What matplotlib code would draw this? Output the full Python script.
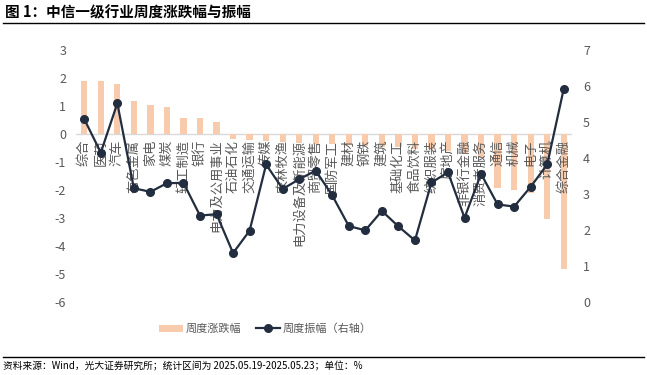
import matplotlib
matplotlib.use('Agg')
import numpy as np
import matplotlib.pyplot as plt
from matplotlib.lines import Line2D
from matplotlib.patches import Patch

plt.rcParams['font.family'] = ['Noto Sans CJK SC', 'DejaVu Sans']
plt.rcParams['axes.unicode_minus'] = False

# data
industries = ['综合', '医药', '汽车', '有色金属', '家电', '煤炭', '轻工制造', '银行',
              '电力及公用事业', '石油石化', '交通运输', '传媒', '农林牧渔', '电力设备及新能源',
              '商贸零售', '国防军工', '建材', '钢铁', '建筑', '基础化工', '食品饮料',
              '纺织服装', '房地产', '非银行金融', '消费者服务', '通信', '机械', '电子',
              '计算机', '综合金融']
weekly_change = [1.90, 1.90, 1.79, 1.18, 1.04, 0.95, 0.57, 0.57, 0.43, -0.18,
                 -0.21, -0.26, -0.29, -0.32, -0.35, -0.37, -0.40, -0.43, -0.45, -0.48,
                 -0.52, -0.55, -0.60, -0.70, -0.85, -1.93, -1.99, -2.10, -3.04, -4.83]
weekly_amplitude = [5.08, 4.15, 5.52, 3.16, 3.06, 3.30, 3.31, 2.40, 2.44, 1.36,
                    1.98, 3.82, 3.14, 3.41, 3.65, 2.96, 2.11, 1.99, 2.53, 2.10,
                    1.71, 3.32, 3.60, 2.34, 3.56, 2.71, 2.65, 3.20, 3.82, 5.92]
left_ticks = [3, 2, 1, 0, -1, -2, -3, -4, -5, -6]
right_ticks = [0, 1, 2, 3, 4, 5, 6, 7]

bar_color = '#F8CBAD'
line_color = '#222E3F'
grey = '#595959'

W, H = 647, 375
fig = plt.figure(figsize=(W / 100, H / 100), dpi=100)
ax = fig.add_axes([76 / W, 1 - 302 / H, (572 - 76) / W, (302 - 50) / H])
x = np.arange(len(industries))

ax.bar(x, weekly_change, width=0.38, color=bar_color, zorder=2)
ax.axhline(0, color='#D9D9D9', lw=1, zorder=1)
ax.set_xlim(-0.5, len(industries) - 0.5)
ax.set_ylim(-6, 3)
ax.set_yticks(left_ticks)
ax.set_xticks([])
ax.tick_params(axis='y', length=0, pad=7, labelsize=9, labelcolor=grey)
for s in ax.spines.values():
    s.set_visible(False)

# category labels sit just under the zero line
for i, name in enumerate(industries):
    ax.text(i, -0.2, name, rotation=90, ha='center', va='top',
            fontsize=9.5, color=grey, zorder=3)

ax2 = ax.twinx()
ax2.plot(x, weekly_amplitude, color=line_color, lw=1.6, marker='o',
         markersize=5.5, zorder=4)
ax2.set_ylim(0, 7)
ax2.set_yticks(right_ticks)
ax2.tick_params(axis='y', length=0, pad=8, labelsize=9, labelcolor=grey)
for s in ax2.spines.values():
    s.set_visible(False)

handles = [Patch(facecolor=bar_color, edgecolor='none'),
           Line2D([], [], color=line_color, lw=1.6, marker='o', markersize=5.5)]
fig.legend(handles, ['周度涨跌幅', '周度振幅（右轴）'], loc='center',
           bbox_to_anchor=(265 / W, 1 - 329 / H), ncol=2, frameon=False,
           fontsize=8, labelcolor=grey, handlelength=2.2, handletextpad=0.2,
           columnspacing=1.3)

# title, rules and source line
fig.text(5 / W, 1 - 12 / H, '图 1：中信一级行业周度涨跌幅与振幅', fontsize=10.5,
         fontweight='bold', va='center', ha='left', color='black')
fig.add_artist(Line2D([3 / W, 644 / W], [1 - 23 / H, 1 - 23 / H], color='black', lw=1))
fig.add_artist(Line2D([3 / W, 644 / W], [1 - 357 / H, 1 - 357 / H], color='black', lw=1))
fig.text(3 / W, 1 - 366 / H,
         '资料来源：Wind，光大证券研究所；统计区间为 2025.05.19-2025.05.23；单位：%',
         fontsize=7, va='center', ha='left', color='black')

fig.savefig('out.png', dpi=100)
